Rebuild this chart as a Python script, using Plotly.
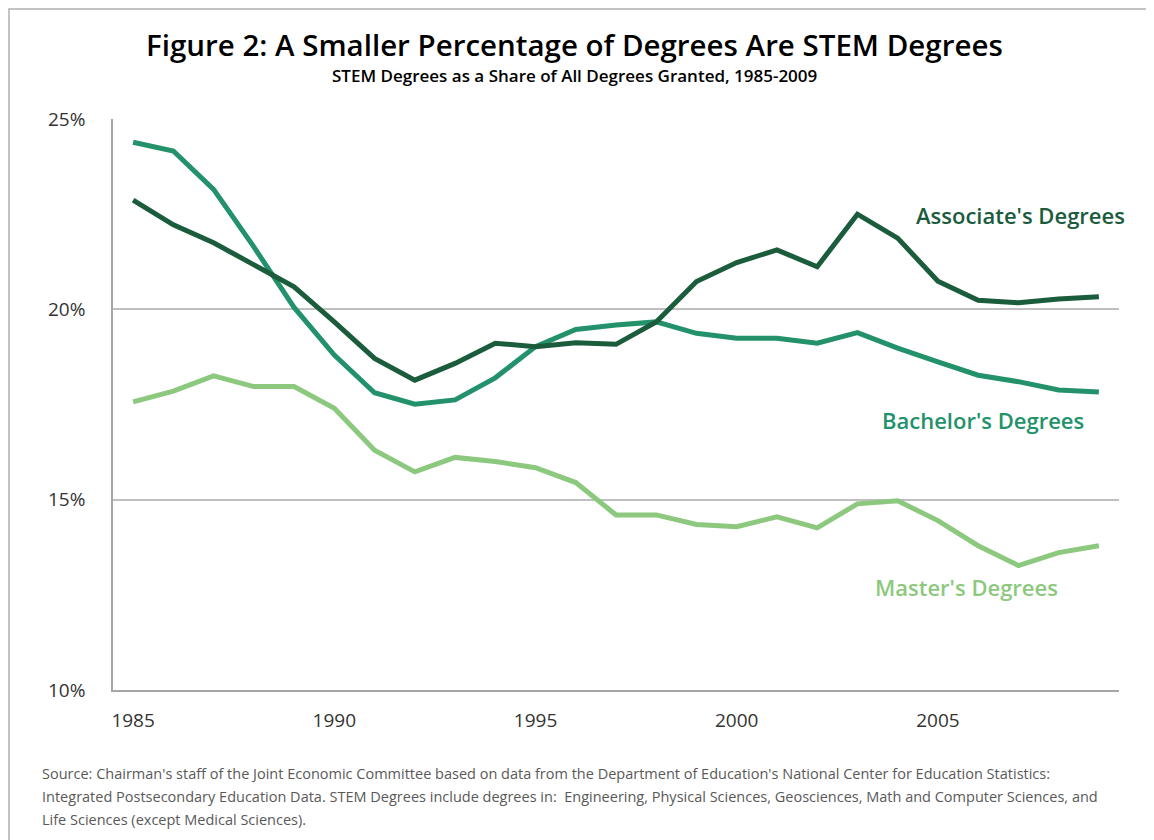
import plotly.graph_objects as go

years = list(range(1985, 2010))

associates = [22.87, 22.22, 21.75, 21.16, 20.59, 19.67, 18.71, 18.14, 18.58, 19.11,
              19.02, 19.12, 19.08, 19.67, 20.73, 21.23, 21.56, 21.12, 22.50, 21.87,
              20.74, 20.24, 20.17, 20.27, 20.33]
bachelors = [24.39, 24.16, 23.15, 21.64, 20.05, 18.80, 17.81, 17.51, 17.62, 18.20,
             19.02, 19.47, 19.59, 19.67, 19.37, 19.24, 19.24, 19.11, 19.39, 18.98,
             18.62, 18.27, 18.10, 17.88, 17.83]
masters = [17.57, 17.85, 18.25, 17.97, 17.97, 17.40, 16.30, 15.73, 16.11, 16.00,
           15.84, 15.45, 14.60, 14.60, 14.35, 14.29, 14.55, 14.26, 14.89, 14.97,
           14.45, 13.79, 13.27, 13.61, 13.79]

y_ticks = [10, 15, 20, 25]
x_ticks = [1985, 1990, 1995, 2000, 2005]

dark = "#1a5c3c"
mid = "#23926a"
light = "#8cc97e"

fig = go.Figure()
for vals, color in [(masters, light), (bachelors, mid), (associates, dark)]:
    fig.add_trace(go.Scatter(x=years, y=vals, mode="lines",
                             line=dict(color=color, width=5), showlegend=False))

# series labels
labels = [("Associate's Degrees", 2007.04, 22.48, dark),
          ("Bachelor's Degrees", 2006.11, 17.09, mid),
          ("Master's Degrees", 2005.7, 12.71, light)]
for text, x, y, color in labels:
    fig.add_annotation(x=x, y=y, text=text, showarrow=False,
                       xanchor="center", yanchor="middle",
                       font=dict(family="Open Sans", size=22, weight=600, color=color))

# title + subtitle (plot area spans 119..690 px in the reference)
fig.add_annotation(xref="paper", yref="paper", x=0.4583, y=(690 - 45) / 571,
                   xanchor="center", yanchor="middle",
                   text="Figure 2: A Smaller Percentage of Degrees Are STEM Degrees",
                   showarrow=False,
                   font=dict(family="Open Sans", size=29.5, weight=600, color="#000000"))
fig.add_annotation(xref="paper", yref="paper", x=0.4583, y=(690 - 75) / 571,
                   xanchor="center", yanchor="middle",
                   text="STEM Degrees as a Share of All Degrees Granted, 1985-2009",
                   showarrow=False,
                   font=dict(family="Open Sans", size=17, weight=600, color="#000000"))

# source note
source_lines = [
    "Source: Chairman's staff of the Joint Economic Committee based on data from the Department of Education's National Center for Education Statistics:",
    "Integrated Postsecondary Education Data. STEM Degrees include degrees in:  Engineering, Physical Sciences, Geosciences, Math and Computer Sciences, and",
    "Life Sciences (except Medical Sciences).",
]
for i, line in enumerate(source_lines):
    fig.add_annotation(xref="paper", yref="paper", x=(40 - 113) / 1006,
                       y=(690 - (773 + 23 * i)) / 571,
                       xanchor="left", yanchor="middle",
                       text=line, showarrow=False,
                       font=dict(family="Open Sans", size=14.5, color="#595959"))

# outer frame of the original chart
fig.add_shape(type="rect", xref="paper", yref="paper",
              x0=(1 - 105) / 1006, x1=1.2, y0=-0.4, y1=(690 - 9) / 571,
              line=dict(color="#b0b0b0", width=1.5), layer="below")

fig.update_xaxes(range=[1984.5, 2009.5], tickvals=x_ticks, showgrid=False,
                 showline=True, linecolor="#a6a6a6", linewidth=1.5, ticks="",
                 ticklabelstandoff=12,
                 tickfont=dict(family="Open Sans", size=19, color="#333333"))
fig.update_yaxes(range=[10, 25], tickvals=y_ticks, ticktext=[f"{v}%" for v in y_ticks],
                 showgrid=True, gridcolor="#bfbfbf", gridwidth=1.5,
                 showline=True, linecolor="#a6a6a6", linewidth=1.5, ticks="",
                 ticklabelstandoff=22, zeroline=False,
                 tickfont=dict(family="Open Sans", size=19, color="#333333"))

# the page body adds 8px, so margins are trimmed by 8 on the top/left
fig.update_layout(width=1154, height=840,
                  margin=dict(l=105, r=43, t=111, b=158),
                  plot_bgcolor="white", paper_bgcolor="white")

fig.write_html("out.html")
